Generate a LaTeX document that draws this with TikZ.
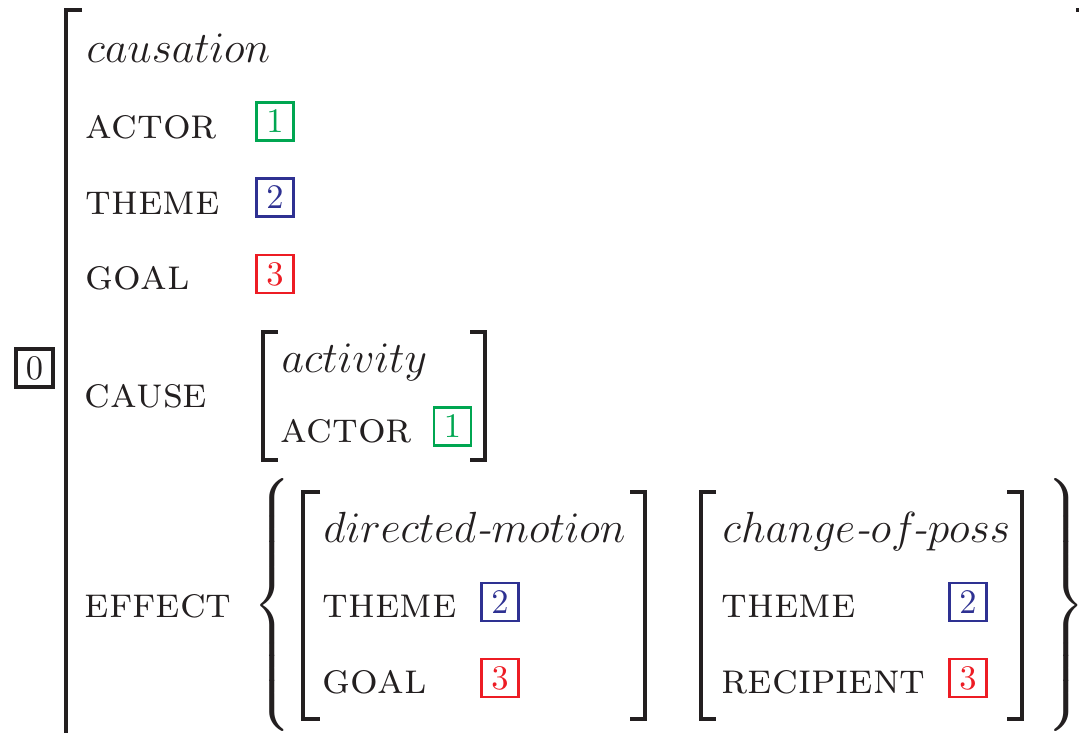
\RequirePackage{fix-cm}
\documentclass[tikz,border=0pt]{standalone}
\usepackage{amsmath}
\usepackage{tikz}
\usetikzlibrary{positioning}
\definecolor{ink}{RGB}{35,31,32}
\definecolor{taggreen}{RGB}{0,166,81}
\definecolor{tagblue}{RGB}{46,49,146}
\definecolor{tagred}{RGB}{237,28,36}
\delimiterfactor=1000
\delimitershortfall=0pt

\begin{document}
\begin{tikzpicture}[x=0.01cm, y=-0.01cm, font=\fontsize{12.4}{14}\selectfont, color=ink,
        attr/.style={anchor=base west, inner sep=0pt},
        tagbox/.style={rectangle, draw, line width=0.8pt, minimum width=0.37cm, minimum height=0.38cm, inner sep=0pt, font=\fontsize{9.8}{10}\selectfont},
        brack/.style={line width=0.9pt}]

        \clip (0,0) rectangle (1079,732);

        % outer matrix
        \node[tagbox, line width=1pt] (t0) at (34.5,368) {0};
        \draw[brack] (82,10) -- (66,10) -- (66,745);
        \draw[brack] (1076,10) -- (1083,10) -- (1083,745);

        \node[attr] (type) at (86,62) {$causation$};
        \node[attr] (actor) at (85,138) {\textsc{actor}};
        \node[tagbox, taggreen] (t1) at (275,121.5) {1};
        \node[attr] (theme) at (85,214) {\textsc{theme}};
        \node[tagbox, tagblue] (t2) at (275,197.5) {2};
        \node[attr] (goal) at (85,289) {\textsc{goal}};
        \node[tagbox, tagred] (t3) at (275,274) {3};

        % cause
        \node[attr] (cause) at (84,407) {\textsc{cause}};
        \draw[brack] (278,332) -- (263,332) -- (263,460) -- (278,460);
        \draw[brack] (470,332) -- (485,332) -- (485,460) -- (470,460);
        \node[attr] (ctype) at (281,372) {$activity$};
        \node[attr] (cactor) at (280,442) {\textsc{actor}};
        \node[tagbox, taggreen] (ct1) at (452.5,426.5) {1};

        % effect
        \node[attr] (effect) at (84,617) {\textsc{effect}};
        \node[inner sep=0pt] (lbrace) at (274,605) {$\left\{\vrule height 1.15cm depth 1.15cm width 0pt\right.$};
        \node[inner sep=0pt] (rbrace) at (1064,605) {$\left.\vrule height 1.15cm depth 1.15cm width 0pt\right\}$};

        \draw[brack] (320,492) -- (303,492) -- (303,719) -- (320,719);
        \draw[brack] (630,492) -- (645,492) -- (645,719) -- (630,719);
        \node[attr] (mtype) at (323,542) {$directed$\textit{-}$motion$};
        \node[attr] (mtheme) at (322,617) {\textsc{theme}};
        \node[tagbox, tagblue] (mt2) at (500,602) {2};
        \node[attr] (mgoal) at (322,693) {\textsc{goal}};
        \node[tagbox, tagred] (mt3) at (500,678) {3};

        \draw[brack] (716,492) -- (701,492) -- (701,719) -- (716,719);
        \draw[brack] (1007,492) -- (1022,492) -- (1022,719) -- (1007,719);
        \node[attr] (ptype) at (722,542) {$change$\textit{-}$of\kern-0.1em$\textit{-}$poss$};
        \node[attr] (ptheme) at (721,617) {\textsc{theme}};
        \node[tagbox, tagblue] (pt2) at (968,602) {2};
        \node[attr] (precip) at (721,693) {\textsc{recipient}};
        \node[tagbox, tagred] (pt3) at (968,678) {3};

        \end{tikzpicture}
\end{document}
